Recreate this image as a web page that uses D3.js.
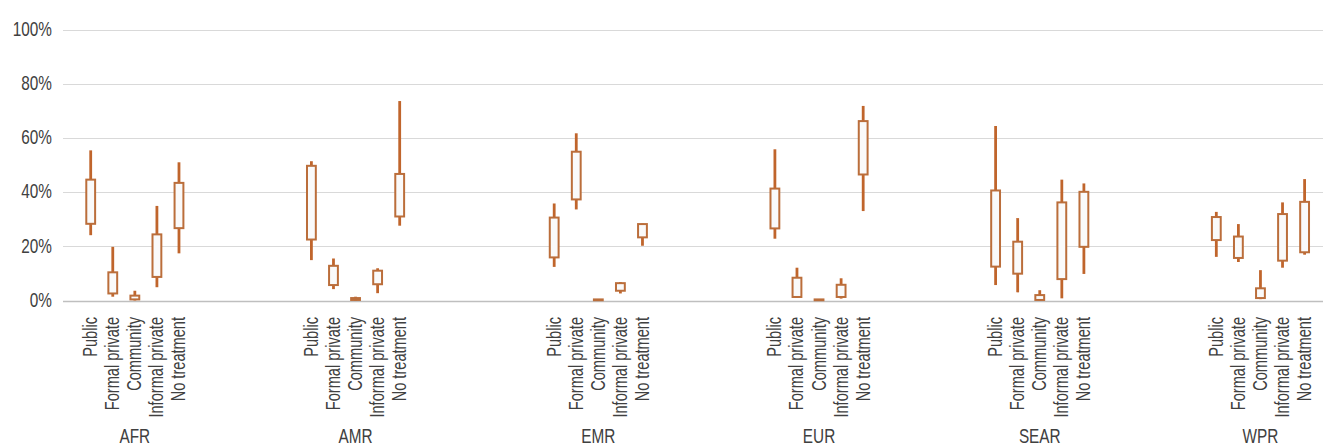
<!DOCTYPE html>
<html>
<head>
<meta charset="utf-8">
<script src="https://cdn.jsdelivr.net/npm/d3@7"></script>
<style>
  html, body { margin: 0; padding: 0; background: #ffffff; }
  svg { display: block; }
  text { font-family: "Liberation Sans", Arial, sans-serif; fill: #404040; }
</style>
</head>
<body>
<svg id="chart" width="1323" height="448"></svg>
<script>
// ---- data ----
const regions = ["AFR", "AMR", "EMR", "EUR", "SEAR", "WPR"];
const categories = ["Public", "Formal private", "Community", "Informal private", "No treatment"];
const yTicks = [0, 0.2, 0.4, 0.6, 0.8, 1.0];
// values in %, region-major order (AFR x5, AMR x5, ...)
const high = [
  55.4, 19.8, 3.6, 34.9, 51.0,
  51.4, 15.5, 1.4, 11.9, 73.6,
  35.8, 61.7, 0.5, 6.8, 28.4,
  55.8, 12.1, 0.5, 8.2, 71.8,
  64.4, 30.4, 3.8, 44.6, 43.2,
  32.7, 28.2, 11.2, 36.2, 44.8
];
const upper = [
  44.6, 10.4, 1.8, 24.4, 43.4,
  49.7, 12.8, 0.9, 11.0, 46.7,
  30.6, 54.9, 0.4, 6.4, 28.2,
  41.3, 8.4, 0.4, 5.8, 66.2,
  40.6, 21.7, 2.0, 36.2, 40.1,
  30.8, 23.6, 4.5, 31.9, 36.4
];
const lower = [
  28.3, 2.6, 0.4, 8.7, 26.7,
  22.5, 5.7, 0.2, 6.0, 31.0,
  15.9, 37.3, 0.1, 3.6, 23.3,
  26.6, 1.3, 0.1, 1.3, 46.5,
  12.5, 9.9, 0.2, 7.9, 19.8,
  22.3, 15.7, 0.9, 14.7, 17.8
];
const low = [
  24.1, 1.4, 0.0, 4.9, 17.4,
  14.9, 4.2, 0.0, 2.7, 27.6,
  12.4, 33.6, 0.0, 2.6, 20.2,
  22.8, 1.0, 0.0, 0.7, 33.0,
  5.7, 3.0, 0.0, 0.8, 9.8,
  16.1, 14.2, 0.5, 12.1, 16.9
];

// ---- layout ----
const spacersAfter = [5, 6, 5, 5, 5, 0];
const keys = [];
regions.forEach((r, ri) => {
  categories.forEach(c => keys.push(r + "|" + c));
  for (let s = 0; s < spacersAfter[ri]; s++) keys.push(r + "|_" + s);
});

const rows = [];
regions.forEach((r, ri) => categories.forEach((c, ci) => {
  const i = ri * categories.length + ci;
  rows.push({ region: r, cat: c, key: r + "|" + c,
    high: high[i] / 100, upper: upper[i] / 100, lower: lower[i] / 100, low: low[i] / 100 });
}));

const svg = d3.select("#chart");
const gridLeft = 63, gridRight = 1323;
const squeeze = 0.73; // condensed look
const x = d3.scalePoint().domain(keys).range([90.7, 1304.6]);
const y = d3.scaleLinear().domain([0, 1]).range([300.5, 29.5]);

// gridlines
svg.append("g").selectAll("line").data(yTicks).join("line")
  .attr("x1", gridLeft).attr("x2", gridRight)
  .attr("y1", d => Math.round(y(d)) + 0.5).attr("y2", d => Math.round(y(d)) + 0.5)
  .attr("stroke", d => d === 0 ? "#bfbfbf" : "#d9d9d9")
  .attr("stroke-width", d => d === 0 ? 1.5 : 1);

// y axis labels
const yAxis = d3.axisLeft(y).tickValues(yTicks).tickFormat(d3.format(".0%")).tickSize(0).tickPadding(0);
const yg = svg.append("g").attr("transform", "translate(52,0)").call(yAxis);
yg.select(".domain").remove();
yg.selectAll("text")
  .attr("font-size", 21).attr("fill", "#404040")
  .attr("font-family", null)
  .attr("x", 0)
  .attr("dy", "0.28em")
  .attr("text-anchor", "end")
  .attr("transform", `scale(${squeeze},1)`);

// candles
const col = "#c0652c";
const g = svg.append("g");
g.selectAll("line.wh").data(rows).join("line").attr("class", "wh")
  .attr("x1", d => x(d.key)).attr("x2", d => x(d.key))
  .attr("y1", d => y(d.high)).attr("y2", d => y(d.low))
  .attr("stroke", col).attr("stroke-width", 2.8);
const bw = x.step() * 0.4;
g.selectAll("rect").data(rows).join("rect")
  .attr("x", d => x(d.key) - bw / 2)
  .attr("width", bw)
  .attr("y", d => y(d.upper))
  .attr("height", d => Math.max(0.01, y(d.lower) - y(d.upper)))
  .attr("fill", "#fafafa")
  .attr("stroke", "#bb6e3b").attr("stroke-width", 2);

// category labels
svg.append("g").selectAll("text").data(rows).join("text")
  .attr("transform", d => `translate(${x(d.key) + 6.5},317) rotate(-90) scale(${squeeze},1)`)
  .attr("text-anchor", "end")
  .attr("font-size", 20)
  .text(d => d.cat);

// region labels
svg.append("g").selectAll("text").data(regions).join("text")
  .attr("transform", r => `translate(${x(r + "|" + categories[2])},443) scale(${squeeze},1)`)
  .attr("text-anchor", "middle")
  .attr("font-size", 21)
  .text(r => r);
</script>
</body>
</html>
